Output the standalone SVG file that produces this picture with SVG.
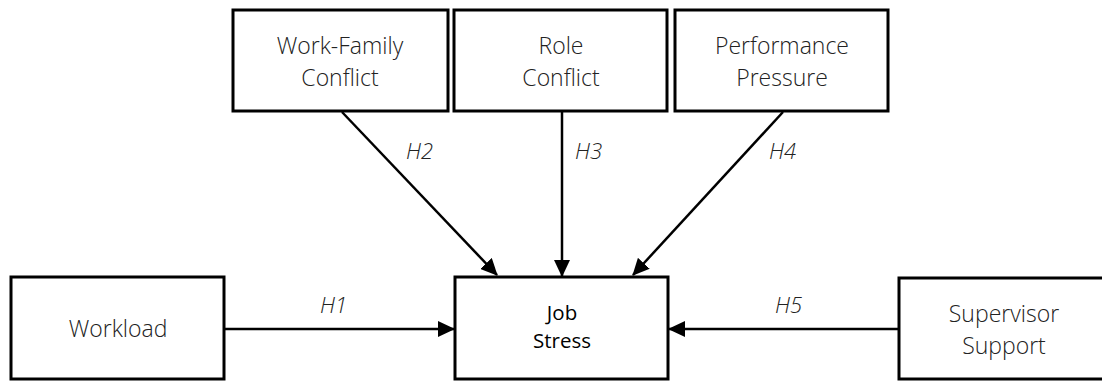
<svg xmlns="http://www.w3.org/2000/svg" width="1102" height="381" viewBox="0 0 1102 381">
<style>
.box{fill:#fff;stroke:#000;stroke-width:3}
.t{font-family:"Open Sans","Noto Sans",sans-serif;font-weight:300;font-size:23px;fill:#222;text-anchor:middle}
.tb{font-family:"Open Sans","Noto Sans",sans-serif;font-weight:400;font-size:20.5px;fill:#000;text-anchor:middle}
.lbl{font-family:"Open Sans","Noto Sans",sans-serif;font-weight:300;font-style:italic;font-size:22px;fill:#222}
.c{stroke:#000;stroke-width:2.5;fill:none;marker-end:url(#ah)}
</style>
<defs>
<marker id="ah" markerWidth="17" markerHeight="16" refX="16" refY="8" orient="auto" markerUnits="userSpaceOnUse">
<path d="M0,0 L17,8 L0,16 Z" fill="#000"/>
</marker>
</defs>
<rect width="1102" height="381" fill="#fff"/>
<g id="connectors">
<line class="c" x1="342" y1="112" x2="497" y2="275"/>
<line class="c" x1="562" y1="111" x2="562" y2="276"/>
<line class="c" x1="783" y1="112" x2="633" y2="275"/>
<line class="c" x1="225" y1="329" x2="454" y2="329"/>
<line class="c" x1="899" y1="329" x2="669" y2="329"/>
<text class="lbl" x="406" y="159">H2</text>
<text class="lbl" x="575" y="159">H3</text>
<text class="lbl" x="769" y="159">H4</text>
<text class="lbl" x="320" y="313">H1</text>
<text class="lbl" x="775" y="313">H5</text>
</g>
<g id="work-family">
<rect class="box" x="233" y="10" width="215" height="101"/>
<text class="t" x="340" y="54">Work-Family</text>
<text class="t" x="340" y="86">Conflict</text>
</g>
<g id="role">
<rect class="box" x="454" y="10" width="213" height="101"/>
<text class="t" x="561" y="54">Role</text>
<text class="t" x="561" y="86">Conflict</text>
</g>
<g id="performance">
<rect class="box" x="675" y="10" width="213" height="101"/>
<text class="t" x="782" y="54">Performance</text>
<text class="t" x="782" y="86">Pressure</text>
</g>
<g id="workload">
<rect class="box" x="11" y="277" width="213" height="102"/>
<text class="t" x="118" y="337">Workload</text>
</g>
<g id="job-stress">
<rect class="box" x="455" y="277" width="213" height="102"/>
<text class="tb" x="562" y="320">Job</text>
<text class="tb" x="562" y="348">Stress</text>
</g>
<g id="supervisor">
<rect class="box" x="899" y="278" width="215" height="101"/>
<text class="t" x="1004" y="322">Supervisor</text>
<text class="t" x="1004" y="354">Support</text>
</g>
</svg>
